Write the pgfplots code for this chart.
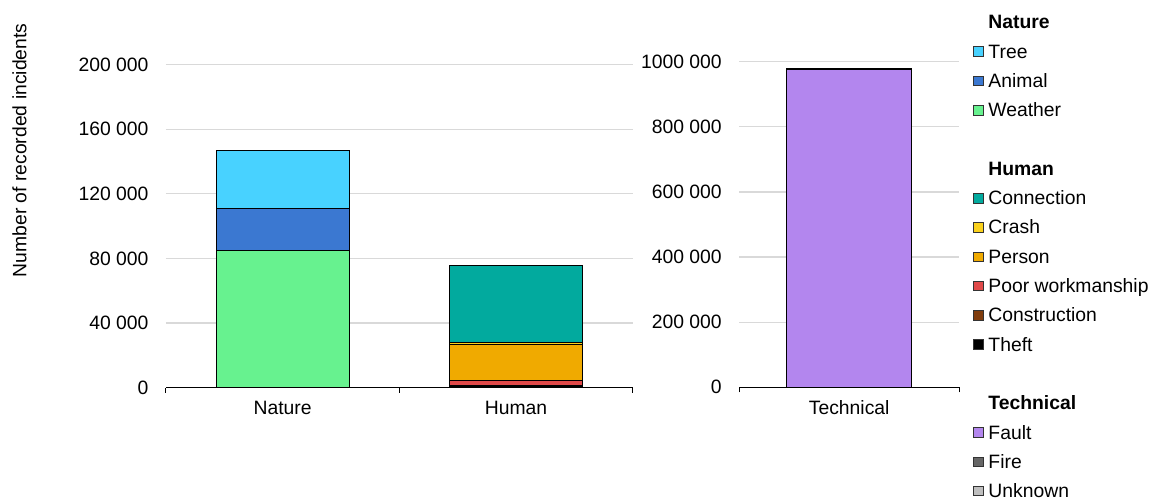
\documentclass[border=0pt]{standalone}
\usepackage{pgfplots}
\pgfplotsset{compat=1.18}
\usepackage{fontspec}
\setmainfont{Liberation Sans}
\definecolor{cTree}{HTML}{48D2FF}
\definecolor{cAnimal}{HTML}{3B78D1}
\definecolor{cWeather}{HTML}{67F28F}
\definecolor{cConn}{HTML}{02AA9E}
\definecolor{cCrash}{HTML}{FAD11C}
\definecolor{cPerson}{HTML}{F0AA00}
\definecolor{cPoor}{HTML}{E04949}
\definecolor{cConstr}{HTML}{803C0C}
\definecolor{cTheft}{HTML}{000000}
\definecolor{cFault}{HTML}{B386EE}
\definecolor{cFire}{HTML}{666666}
\definecolor{cUnknown}{HTML}{BFBFBF}
\definecolor{gridc}{HTML}{D9D9D9}
\newcommand{\fs}{\fontsize{14.5}{17}\selectfont}
\pgfplotsset{
  common/.style={
    scale only axis, anchor=south west,
    ybar stacked, bar width=0.57,
    axis x line=bottom, axis y line=left,
    x axis line style={-, black, line width=1pt},
    y axis line style={draw=none},
    ymajorgrids, major grid style={color=gridc, line width=0.9pt},
    tick align=outside, major tick length=0pt, minor tick length=3.75pt,
    xtick style={black, line width=0.75pt},
    ytick style={draw=none},
    tick label style={font=\fs, text=black},
    yticklabel style={anchor=east, inner sep=0pt, xshift=-13pt},
    xticklabel style={anchor=north, inner sep=0pt, yshift=-9.75pt},
    scaled y ticks=false,
    ymin=0,
    /pgf/number format/assume math mode=true,
  }
}
\begin{document}
\begin{tikzpicture}
\useasboundingbox (0,0) rectangle (865.5pt,375.75pt);
% Left axis: Nature and Human
\begin{axis}[common,
  at={(124.5pt,85pt)}, width=350pt, height=242.4pt,
  xmin=-0.5, xmax=1.5, xtick={0,1}, xticklabels={Nature,Human},
  minor xtick={-0.5,0.5,1.5},
  ymax=200000, ytick={0,40000,80000,120000,160000,200000},
  yticklabels={0,40 000,80 000,120 000,160 000,200 000},
  ylabel={Number of recorded incidents},
  ylabel style={at={(axis description cs:-0.3139,0.734)}, anchor=center, font=\fs},
]
\addplot[fill=cWeather, draw=black, line width=0.75pt] coordinates {(0,85000) (1,0)};
\addplot[fill=cAnimal, draw=black, line width=0.75pt] coordinates {(0,26000) (1,0)};
\addplot[fill=cTree, draw=black, line width=0.75pt] coordinates {(0,36000) (1,0)};
\addplot[fill=cTheft, draw=black, line width=0.75pt] coordinates {(0,0) (1,1000)};
\addplot[fill=cConstr, draw=black, line width=0.75pt] coordinates {(0,0) (1,400)};
\addplot[fill=cPoor, draw=black, line width=0.75pt] coordinates {(0,0) (1,3300)};
\addplot[fill=cPerson, draw=black, line width=0.75pt] coordinates {(0,0) (1,22300)};
\addplot[fill=cCrash, draw=black, line width=0.75pt] coordinates {(0,0) (1,1000)};
\addplot[fill=cConn, draw=black, line width=0.75pt] coordinates {(0,0) (1,47500)};
\end{axis}
% Right axis: Technical
\begin{axis}[common,
  at={(554.5pt,85.3pt)}, width=164.75pt, height=244.2pt,
  xmin=-0.5, xmax=0.5, xtick={0}, xticklabels={Technical},
  minor xtick={-0.5,0.5},
  ymax=1000000, ytick={0,200000,400000,600000,800000,1000000},
  yticklabels={0,200 000,400 000,600 000,800 000,1000 000},
]
\addplot[fill=cFault, draw=black, line width=0.75pt] coordinates {(0,977000)};
\addplot[fill=cFire, draw=black, line width=0.75pt] coordinates {(0,2500)};
\addplot[fill=cUnknown, draw=black, line width=0.75pt] coordinates {(0,1000)};
\end{axis}
% Legend axis
\begin{axis}[scale only axis, anchor=south west, hide axis,
  at={(554.5pt,85.3pt)}, width=164.75pt, height=244.2pt,
  xmin=0, xmax=1, ymin=0, ymax=1,
  legend image code/.code={\draw[#1, draw=black!80, line width=0.6pt] (0pt,-2.7pt) rectangle (7.5pt,4.5pt);},
  legend cell align=left,
  legend style={at={(1.0637,1.1456)}, anchor=north west, draw=none, fill=none,
    inner sep=0pt, outer sep=0pt, row sep=7.97pt, column sep=3.5pt, font=\fs,
    nodes={inner sep=0pt, text height=11pt, text depth=3pt}},
]
\addlegendimage{empty legend}\addlegendentry{\textbf{Nature}}
\addlegendimage{fill=cTree}\addlegendentry{Tree}
\addlegendimage{fill=cAnimal}\addlegendentry{Animal}
\addlegendimage{fill=cWeather}\addlegendentry{Weather}
\addlegendimage{empty legend}\addlegendentry{\strut}
\addlegendimage{empty legend}\addlegendentry{\textbf{Human}}
\addlegendimage{fill=cConn}\addlegendentry{Connection}
\addlegendimage{fill=cCrash}\addlegendentry{Crash}
\addlegendimage{fill=cPerson}\addlegendentry{Person}
\addlegendimage{fill=cPoor}\addlegendentry{Poor workmanship}
\addlegendimage{fill=cConstr}\addlegendentry{Construction}
\addlegendimage{fill=cTheft}\addlegendentry{Theft}
\addlegendimage{empty legend}\addlegendentry{\strut}
\addlegendimage{empty legend}\addlegendentry{\textbf{Technical}}
\addlegendimage{fill=cFault}\addlegendentry{Fault}
\addlegendimage{fill=cFire}\addlegendentry{Fire}
\addlegendimage{fill=cUnknown}\addlegendentry{Unknown}
\end{axis}
\end{tikzpicture}
\end{document}
